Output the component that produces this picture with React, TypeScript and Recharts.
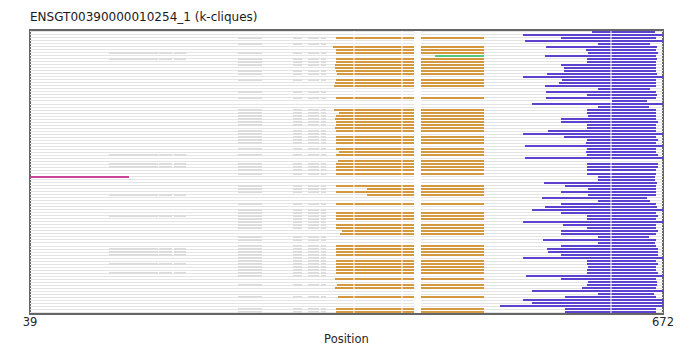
import React from 'react';
import { BarChart, Bar, XAxis, YAxis, ReferenceArea } from 'recharts';

const X_MIN = 39;
const X_MAX = 672;

// k-clique segments per row (null = row has no such segment)
const orangeStart: (number | null)[] = [
  null, null, 345, null, null, 342, 345, 345, null, 345,
  345, 344, 344, 345, 346, null, 345, 344, 343, null,
  null, null, 345, null, null, null, 343, 348, 345, 344,
  345, 345, 344, 345, null, 345, 345, 345, null, 345,
  348, 345, null, 347, 345, 345, 345, 345, null, null,
  null, 345, 376, 345, 376, null, null, 345, null, null,
  345, 345, 345, null, 345, 345, 351, 349, null, null,
  null, 345, 345, 345, 345, null, 345, 345, 345, 345,
  345, null, 344, null, 346, 344, null, null, 347, null,
  null, null, 345, 345,
];
const orangeEnd = 493;

const blueStart: (number | null)[] = [
  601, 532, 570, 534, 607, 555, 595, 597, 554, 596,
  596, 570, 573, 573, 556, 532, 571, 568, 554, 607,
  555, 596, 555, 621, 541, 607, 596, 596, 597, 570,
  570, 596, 596, 557, 532, 573, 596, 595, 534, 596,
  595, 596, 534, null, 596, 596, 596, 596, 607, 607,
  553, 574, 597, 570, 597, 551, 607, 570, 554, 541,
  570, 596, 596, 532, 572, 596, 570, 570, 607, 552,
  607, 570, 556, 557, 570, 532, 596, 596, 597, 596,
  596, 535, 570, 597, 596, 591, 541, 607, 574, 532,
  541, 509, 574, 574,
];
const blueEnd: (number | null)[] = [
  664, 672, 665, 672, 659, 666, 665, 667, 665, 666,
  665, 665, 665, 665, 666, 672, 665, 665, 665, 659,
  665, 666, 665, 656, 672, 658, 665, 665, 665, 665,
  667, 665, 665, 665, 672, 665, 667, 665, 672, 665,
  665, 667, 672, null, 667, 667, 665, 665, 664, 664,
  666, 665, 665, 665, 665, 656, 659, 665, 666, 672,
  665, 667, 665, 672, 665, 665, 667, 665, 658, 665,
  664, 665, 667, 667, 667, 672, 665, 667, 665, 665,
  667, 672, 665, 666, 666, 665, 672, 663, 665, 672,
  672, 672, 665, 665,
];

const greenRow = 8;
const greenSpan = [444, 493];
const magentaRow = 48;
const magentaSpan = [39, 138];

// darker aligned blocks in the gray background
const grayBlockRows = [
  2, 4, 7, 9, 10, 11, 13, 14, 16, 20, 22, 26, 27, 28, 29, 30, 31, 33, 34, 35,
  36, 37, 39, 41, 44, 45, 46, 47, 51, 52, 53, 57, 59, 60, 61, 62, 63, 64, 65,
  68, 69, 71, 72, 73, 74, 75, 76, 77, 78, 79, 80, 81, 84, 88, 92, 93,
];
const grayBlocks = [[247, 271], [302, 311], [317, 328], [330, 335]];
const leftBlockRows = [7, 9, 41, 44, 45, 54, 61, 72, 73, 74, 77, 80];
const leftBlocks = [[118, 167], [168, 181], [183, 195]];

// white columns cutting every row
const gapColumns = [[362.5, 363.5], [410.5, 411.5], [423, 430], [619.5, 620.5]];

const COLORS: Record<string, string> = {
  base: '#e4e4e4',
  gray: '#dcdcdc',
  orange: '#d4993f',
  blue: '#5d42cf',
  green: '#52c97c',
  magenta: '#cc4499',
};
const THICK: Record<string, number> = {
  base: 1,
  gray: 2,
  orange: 2,
  blue: 2,
  green: 2,
  magenta: 2,
};

const ROWS = blueStart.length;

// build stacked pieces per row (lengths + kinds)
const buildRow = (r: number) => {
  const res = 2;
  const cells: string[] = new Array(X_MAX * res).fill('base');
  const paint = (a: number, b: number, kind: string) => {
    for (let i = Math.round(a * res); i < Math.round(b * res); i++) cells[i] = kind;
  };
  paint(0, X_MIN, 'skip');
  if (grayBlockRows.includes(r)) grayBlocks.forEach(([a, b]) => paint(a, b, 'gray'));
  if (leftBlockRows.includes(r)) leftBlocks.forEach(([a, b]) => paint(a, b, 'gray'));
  const os = orangeStart[r];
  if (os !== null) paint(os, orangeEnd, 'orange');
  if (r === greenRow) paint(greenSpan[0], greenSpan[1], 'green');
  if (r === magentaRow) paint(magentaSpan[0], magentaSpan[1], 'magenta');
  const bs = blueStart[r];
  const be = blueEnd[r];
  if (bs !== null && be !== null) paint(bs, be, 'blue');
  gapColumns.forEach(([a, b]) => paint(a, b, 'skip'));

  const pieces: { len: number; kind: string }[] = [];
  let start = 0;
  for (let i = 1; i <= cells.length; i++) {
    if (i === cells.length || cells[i] !== cells[start]) {
      pieces.push({ len: (i - start) / res, kind: cells[start] });
      start = i;
    }
  }
  return pieces;
};

const rowPieces = Array.from({ length: ROWS }, (_, r) => buildRow(r));
const SLOTS = Math.max(...rowPieces.map((p) => p.length));

const data = rowPieces.map((pieces, r) => {
  const d: Record<string, any> = { row: `r${r}` };
  for (let s = 0; s < SLOTS; s++) {
    d[`v${s}`] = pieces[s] ? pieces[s].len : 0;
    d[`k${s}`] = pieces[s] ? pieces[s].kind : 'skip';
  }
  return d;
});

// draw each piece as a line centred in its row band, snapped to the pixel grid
const makeShape = (slot: number) => (props: any) => {
  const { x, y, width, height, payload } = props;
  const kind = payload ? payload[`k${slot}`] : 'skip';
  if (!kind || kind === 'skip' || !(width > 0)) return <g />;
  const t = THICK[kind];
  const top = Math.round(y + (height - t) / 2);
  return <rect x={x} y={top} width={width} height={t} fill={COLORS[kind]} />;
};

const tickStyle = { fontSize: 11.5, fill: '#262626', fontFamily: 'DejaVu Sans' };

export default function App() {
  return (
    <div style={{ position: 'absolute', left: 0, top: 0, width: 693, height: 345, background: '#fff' }}>
      <div
        style={{
          position: 'absolute',
          left: 30,
          top: 11,
          fontFamily: 'DejaVu Sans',
          fontSize: 12,
          lineHeight: '12px',
          color: '#1a1a1a',
          whiteSpace: 'nowrap',
        }}
      >
        ENSGT00390000010254_1 (k-cliques)
      </div>
      <BarChart
        width={693}
        height={345}
        data={data}
        layout="vertical"
        margin={{ top: 30, right: 30, left: 30, bottom: 0 }}
        barCategoryGap={0}
        barGap={0}
      >
        <XAxis
          type="number"
          domain={[X_MIN, X_MAX]}
          allowDataOverflow
          ticks={[X_MIN, X_MAX]}
          tickLine={false}
          axisLine={false}
          tickSize={4}
          tickMargin={0}
          height={31}
          tick={tickStyle}
          label={{ value: 'Position', position: 'insideBottom', offset: 2, style: tickStyle }}
        />
        <YAxis type="category" dataKey="row" hide />
        {Array.from({ length: SLOTS }, (_, s) => (
          <Bar
            key={s}
            dataKey={`v${s}`}
            stackId="row"
            isAnimationActive={false}
            shape={makeShape(s)}
          />
        ))}
        <ReferenceArea x1={X_MIN} x2={X_MAX} fill="none" stroke="#666" strokeWidth={2} />
      </BarChart>
    </div>
  );
}
